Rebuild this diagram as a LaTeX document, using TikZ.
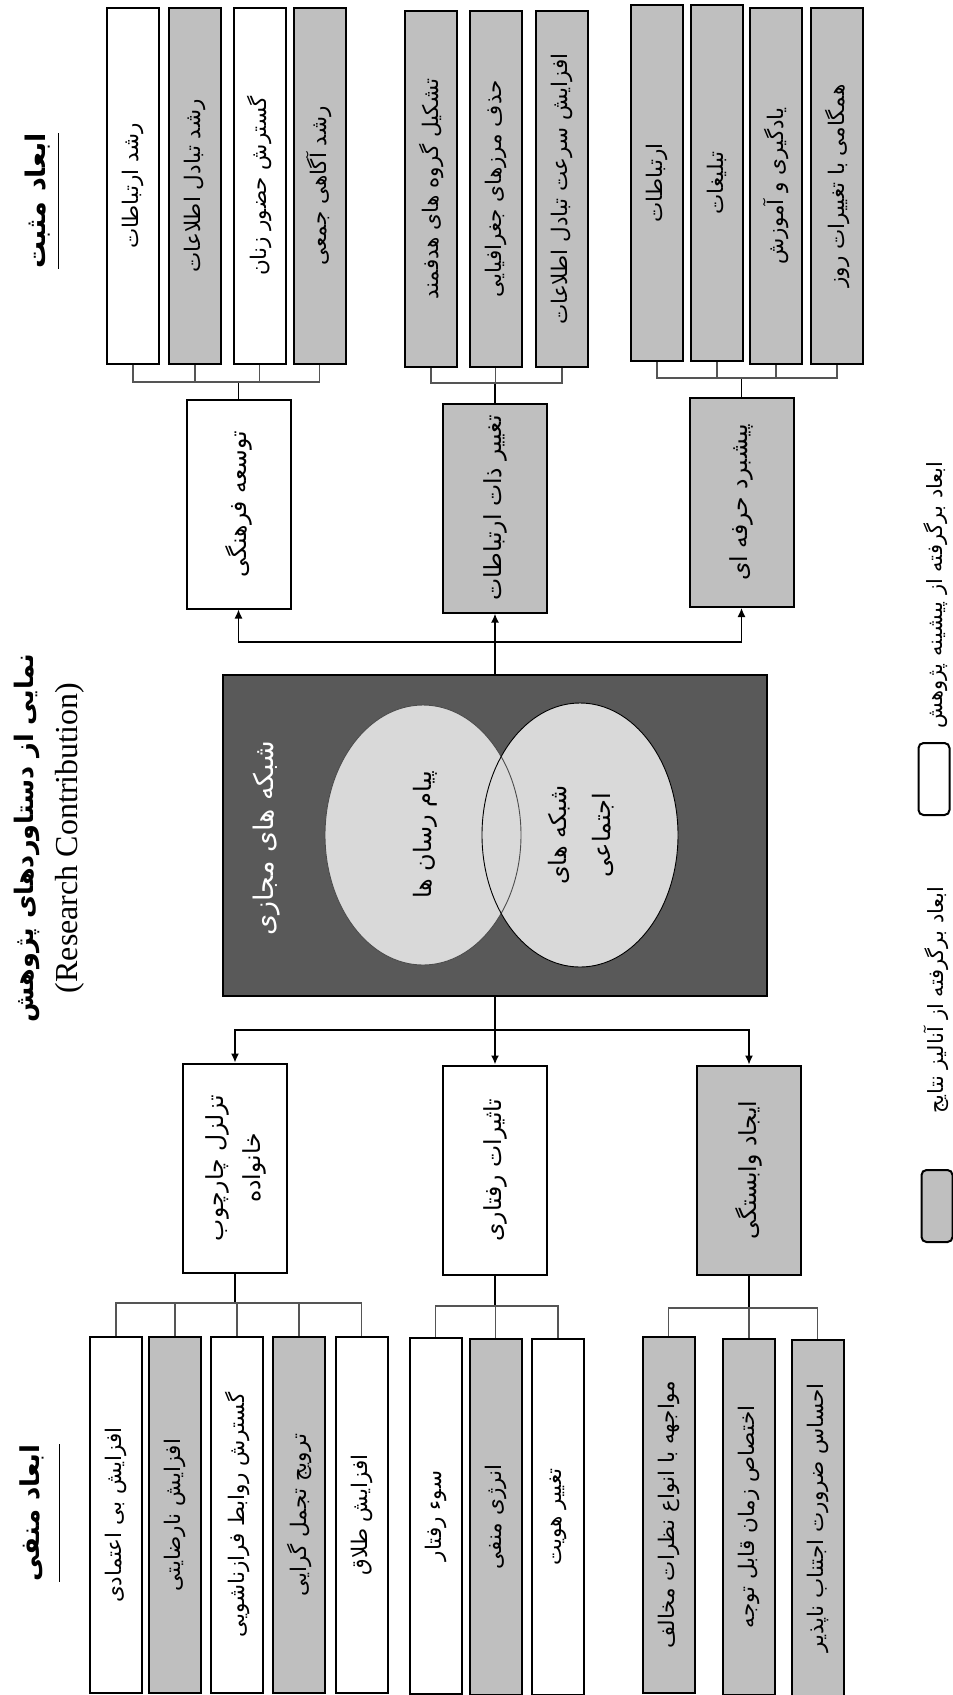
\documentclass[tikz,border=0pt]{standalone}
\usepackage{fontspec}
\usepackage{graphicx}
\usepackage{xcolor}
\usepackage{tikz}
\usetikzlibrary{arrows.meta}
\TeXXeTstate=1
\newfontfamily\fa[Script=Arabic]{DejaVu Sans}
\newfontfamily\en{Liberation Serif}
\definecolor{boxgray}{RGB}{191,191,191}
\definecolor{darkbox}{RGB}{89,89,89}
\definecolor{venn}{RGB}{217,217,217}
\definecolor{linegray}{RGB}{85,85,85}
\newcommand{\vt}[1]{\rotatebox{90}{\fa\beginR #1\endR}}
\newcommand{\vtt}[2]{\rotatebox{90}{\fa\begin{tabular}{@{}c@{}}\beginR #1\endR\\\beginR #2\endR\end{tabular}}}

\begin{document}
\begin{tikzpicture}[x=1pt,y=-1pt]
    \tikzstyle{item}=[draw=black,line width=2pt,fill=white,minimum width=52pt,minimum height=356pt,inner sep=0pt,font=\fontsize{21.5}{24}\selectfont]
    \tikzstyle{cat}=[draw=black,line width=2pt,fill=white,minimum width=104pt,minimum height=209pt,inner sep=0pt,font=\fontsize{23.5}{37}\selectfont]
    \tikzstyle{alt}=[fill=boxgray]
    \tikzstyle{core}=[draw=black,line width=2pt,fill=darkbox,minimum width=544pt,minimum height=321pt]
    \tikzstyle{key}=[draw=black,line width=2pt,fill=white,rounded corners=5pt,minimum width=31pt,minimum height=72pt]
    \tikzstyle{stem}=[draw=black,line width=1.8pt]
    \tikzstyle{link}=[draw=linegray,line width=1.3pt]
    \tikzstyle{arr}=[draw=black,line width=1.3pt,-{Latex[length=9pt,width=8pt]}]

    \def\ty{186}
    \def\uy{189}
    \def\by{1515}

    \useasboundingbox (0,0) rectangle (953,1695);

    % title and side headings
    \node[font=\fontsize{25.5}{30}\selectfont] (ttl) at (27,838) {\vt{\bfseries نمایی از دستاوردهای پژوهش}};
    \node[font=\fontsize{32}{34}\selectfont] (sub) at (70,838) {\rotatebox{90}{\en (Research Contribution)}};
    \node[inner sep=0pt,font=\fontsize{27}{30}\selectfont] (pos) at (38,201) {\vt{\bfseries ابعاد مثبت}};
    \node[inner sep=0pt,font=\fontsize{26}{30}\selectfont] (neg) at (32,1513) {\vt{\bfseries ابعاد منفی}};
    \draw[line width=1.2pt] ([xshift=8pt]pos.north east) -- ([xshift=8pt]pos.south east);
    \draw[line width=1.2pt] ([xshift=15pt]neg.north east) -- ([xshift=15pt]neg.south east);

    % centre
    \node[core] (c) at (495,835.5) {};
    \fill[venn] (423,835) ellipse [x radius=98, y radius=130];
    \fill[venn] (580,835) ellipse [x radius=98, y radius=132];
    \draw[line width=0.9pt,draw=black!70] (423,835) ellipse [x radius=98, y radius=130];
    \draw[line width=0.9pt] (580,835) ellipse [x radius=98, y radius=132];
    \node[text=white,font=\fontsize{27}{30}\selectfont] (ct) at (267,838) {\vt{شبکه های مجازی}};
    \node[font=\fontsize{24}{44}\selectfont] (e1) at (425,835) {\vt{پیام رسان ها}};
    \node[font=\fontsize{24}{44}\selectfont] (e2) at (580,835) {\vtt{شبکه های}{اجتماعی}};

    % positive side
    \node[cat]     (t1) at (238.5,504) {\vt{توسعه فرهنگی}};
    \node[cat,alt] (t2) at (495,508) {\vt{تغییر ذات ارتباطات}};
    \node[cat,alt] (t3) at (741.5,502.5) {\vt{پیشبرد حرفه ای}};

    \node[item]     (l11) at (133,\ty) {\vt{رشد ارتباطات}};
    \node[item,alt] (l12) at (195,\ty) {\vt{رشد تبادل اطلاعات}};
    \node[item]     (l13) at (259.5,\ty) {\vt{گسترش حضور زنان}};
    \node[item,alt] (l14) at (319.5,\ty) {\vt{رشد آگاهی جمعی}};

    \node[item,alt] (l21) at (431,\uy) {\vt{تشکیل گروه های هدفمند}};
    \node[item,alt] (l22) at (495.5,\uy) {\vt{حذف مرزهای جغرافیایی}};
    \node[item,alt] (l23) at (562,\uy) {\vt{افزایش سرعت تبادل اطلاعات}};

    \node[item,alt] (l31) at (657,183) {\vt{ارتباطات}};
    \node[item,alt] (l32) at (717,183) {\vt{تبلیغات}};
    \node[item,alt] (l33) at (776,186) {\vt{یادگیری و آموزش}};
    \node[item,alt] (l34) at (837,186) {\vt{همگامی با تغییرات روز}};

    \coordinate (u1) at (0,382);
    \coordinate (u2) at (0,383);
    \coordinate (u3) at (0,378);
    \draw[stem] (t1.north) -- (t1.north |- u1);
    \draw[link] (l11.south) |- (l14.south |- u1) -- (l14.south);
    \draw[link] (l12.south) -- (l12.south |- u1);
    \draw[link] (l13.south) -- (l13.south |- u1);
    \draw[stem] (t2.north) -- (t2.north |- u2);
    \draw[link] (l21.south) |- (l23.south |- u2) -- (l23.south);
    \draw[link] (l22.south) -- (l22.south |- u2);
    \draw[stem] (t3.north) -- (t3.north |- u3);
    \draw[link] (l31.south) |- (l34.south |- u3) -- (l34.south);
    \draw[link] (l32.south) -- (l32.south |- u3);
    \draw[link] (l33.south) -- (l33.south |- u3);

    \coordinate (ua) at (0,642);
    \draw[arr,line width=1.8pt] (c.north) -- (t2.south);
    \draw[arr] (c.north |- ua) -| (t1.south);
    \draw[arr] (c.north |- ua) -| (t3.south);

    % negative side
    \node[cat]     (b1) at (235,1168) {\vtt{تزلزل چارچوب}{خانواده}};
    \node[cat]     (b2) at (495,1170) {\vt{تاثیرات رفتاری}};
    \node[cat,alt] (b3) at (749,1170) {\vt{ایجاد وابستگی}};

    \node[item]     (m11) at (116,\by) {\vt{افزایش بی اعتمادی}};
    \node[item,alt] (m12) at (175,\by) {\vt{افزایش نارضایتی}};
    \node[item]     (m13) at (237,\by) {\vt{گسترش روابط فرازناشویی}};
    \node[item,alt] (m14) at (299,\by) {\vt{ترویج تجمل گرایی}};
    \node[item]     (m15) at (361.5,\by) {\vt{افزایش طلاق}};

    \node[item]     (m21) at (435.5,1516) {\vt{سوء رفتار}};
    \node[item,alt] (m22) at (495.5,1517) {\vt{انرژی منفی}};
    \node[item]     (m23) at (558,1517) {\vt{تغییر هویت}};

    \node[item,alt] (m31) at (668.5,1515) {\vt{مواجهه با انواع نظرات مخالف}};
    \node[item,alt] (m32) at (749,1517) {\vt{اختصاص زمان قابل توجه}};
    \node[item,alt] (m33) at (817.5,1518) {\vt{احساس ضرورت اجتناب ناپذیر}};

    \coordinate (da) at (0,1030);
    \draw[arr,line width=1.8pt] (c.south) -- (b2.north);
    \draw[arr] (c.south |- da) -| (b1.north);
    \draw[arr] (c.south |- da) -| (b3.north);

    \coordinate (d1) at (0,1303);
    \coordinate (d2) at (0,1306);
    \coordinate (d3) at (0,1308);
    \draw[stem] (b1.south) -- (b1.south |- d1);
    \draw[link] (m11.north) |- (m15.north |- d1) -- (m15.north);
    \draw[link] (m12.north) -- (m12.north |- d1);
    \draw[link] (m13.north) -- (m13.north |- d1);
    \draw[link] (m14.north) -- (m14.north |- d1);
    \draw[stem] (b2.south) -- (b2.south |- d2);
    \draw[link] (m21.north) |- (m23.north |- d2) -- (m23.north);
    \draw[link] (m22.north) -- (m22.north |- d2);
    \draw[stem] (b3.south) -- (b3.south |- d3);
    \draw[link] (m31.north) |- (m33.north |- d3) -- (m33.north);
    \draw[link] (m32.north) -- (m32.north |- d3);

    % legend
    \node[key]     (k1) at (934,779) {};
    \node[key,alt] (k2) at (937,1206) {};
    \node[font=\fontsize{21}{24}\selectfont] (k1t) at (936,595) {\vt{ابعاد برگرفته از پیشینه پژوهش}};
    \node[font=\fontsize{21}{24}\selectfont] (k2t) at (936,1000) {\vt{ابعاد برگرفته از آنالیز نتایج}};
\end{tikzpicture}
\end{document}
